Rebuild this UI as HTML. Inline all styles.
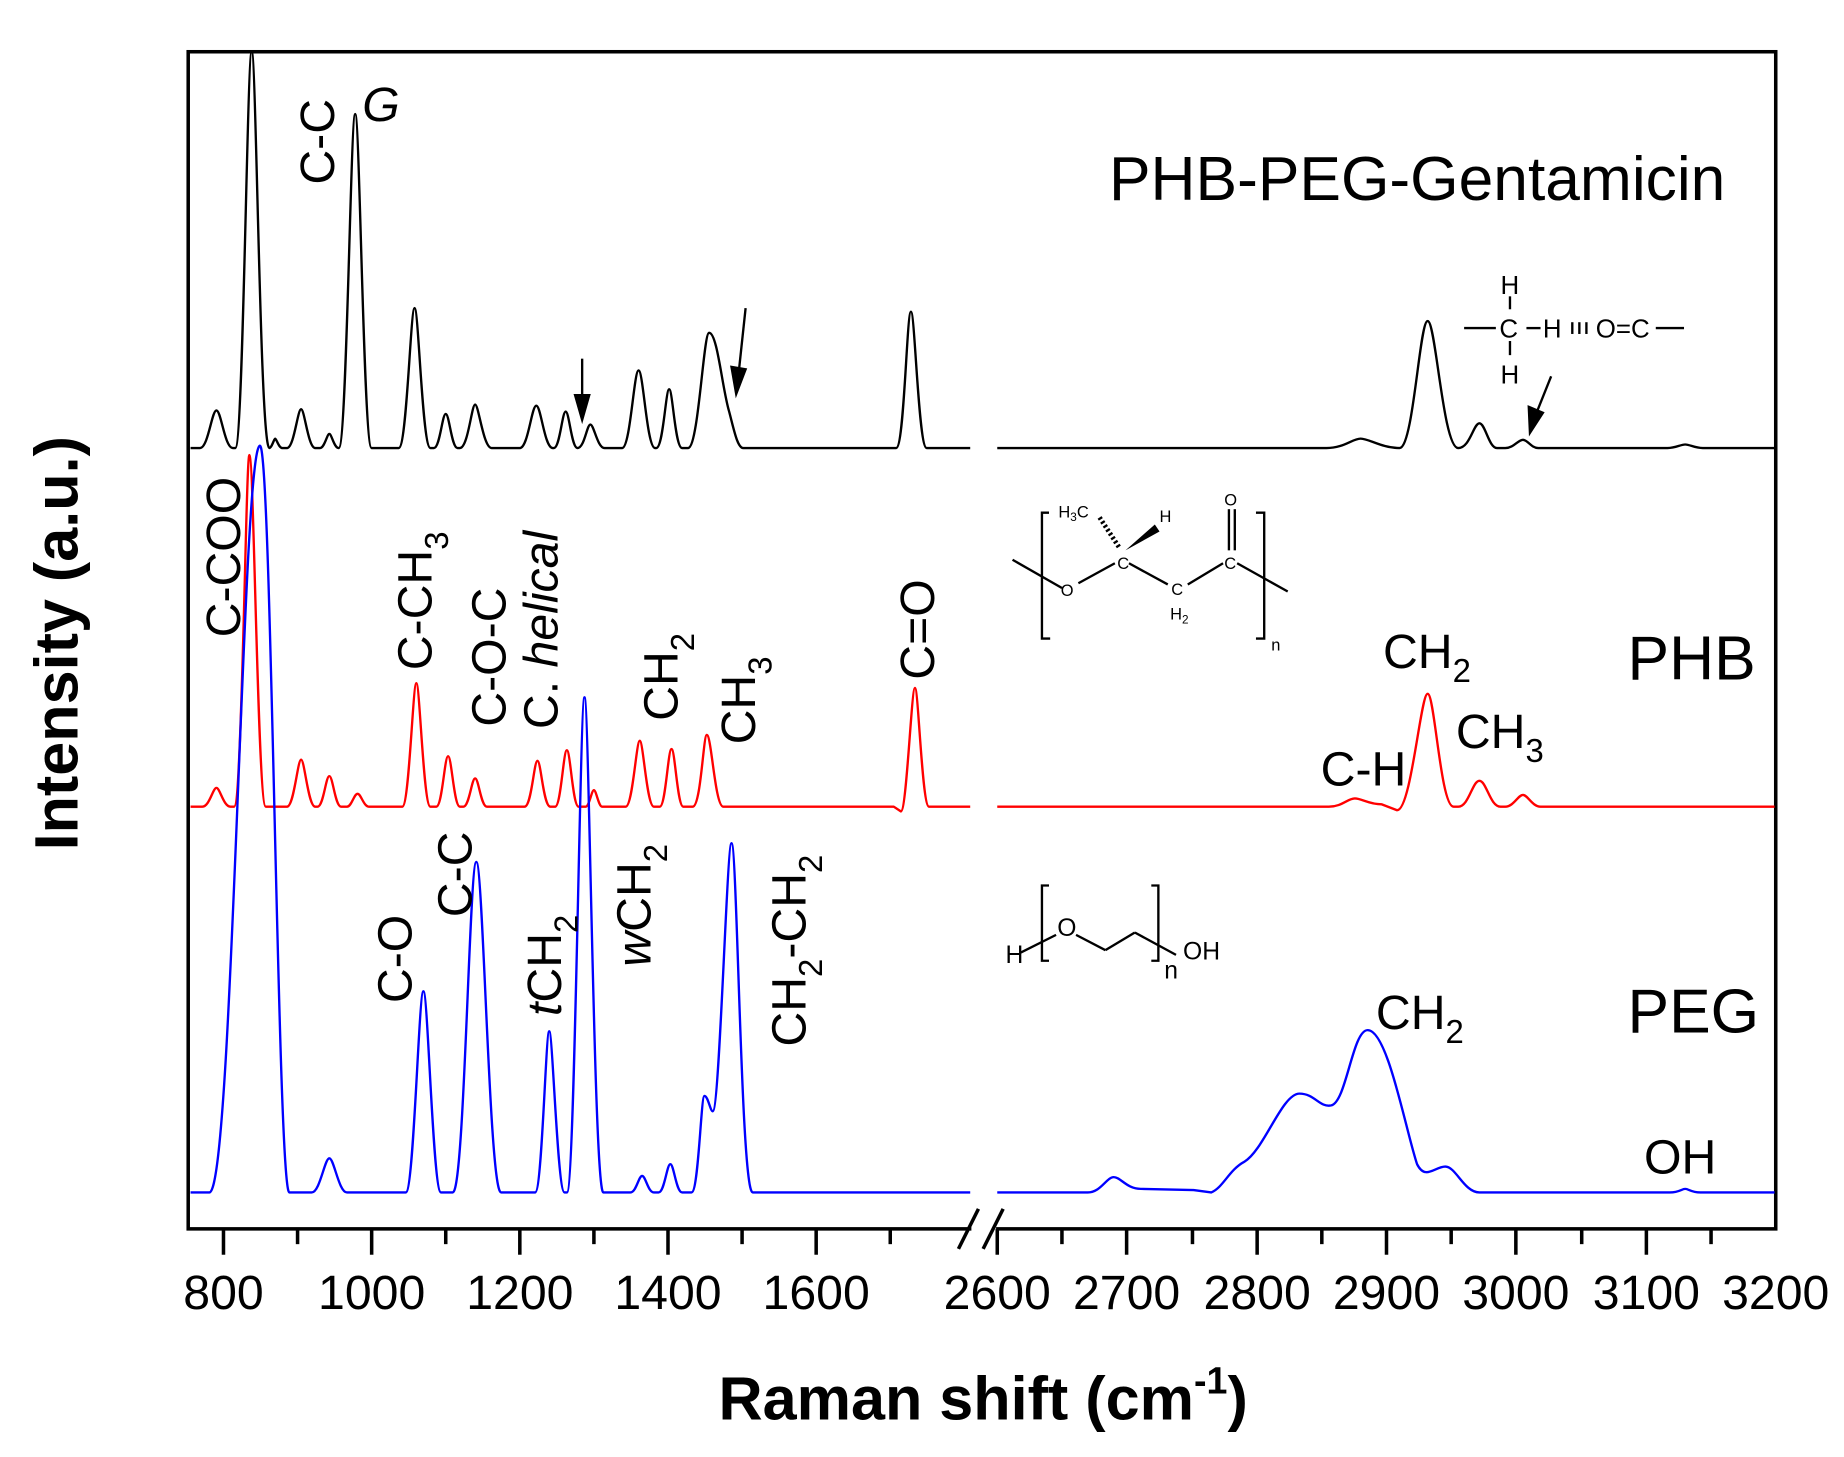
<!DOCTYPE html>
<html><head><meta charset="utf-8"><style>
html,body{margin:0;padding:0;background:#fff;}
svg{display:block;}
text{font-family:"Liberation Sans",sans-serif;fill:#000;}
</style></head><body>
<svg width="1844" height="1457" viewBox="0 0 1568 1239" xmlns="http://www.w3.org/2000/svg">
<rect x="160" y="44" width="1350" height="1001" fill="none" stroke="#000" stroke-width="3"/>
<g fill="none" stroke-width="2" stroke-linejoin="round">
<path stroke="#000" d="M162,381 L170,381 C177,381 180,349 184,349 C188,349 191,381 198,381
L200,381 C207,381 210,44 214,44 C218,44 221,381 229,381
C231,381 233,373 234,373 C235,373 237,381 240,381 L244,381
C250,381 253,348 256,348 C259,348 262,381 268,381 L272,381
C276,381 278,369 280,369 C282,369 284,381 288,381
C295,381 298,97 302,97 C306,97 309,381 316,381 L339,381
C346,381 349,262 352.5,262 C356,262 359,381 366,381 L369,381
C374,381 376,352 379,352 C382,352 384,381 389,381 L391,381
C398,381 401,344 404,344 C407,344 411,381 418,381 L442,381
C449,381 452,345 456,345 C460,345 463,381 470,381 L471,381
C476,381 478,350 481,350 C484,350 486,381 491,381
C497,381 499,361 502,361 C505,361 508,381 514,381 L529,381
C536,381 539,315 543,315 C547,315 550,381 557,381 L558,381
C564,381 566,331 569,331 C572,331 574,381 580,381 L585,381
C594,381 598,283 603,283 C610,283 614,330 620,350 C624,365 627,381 632,381 L762,381
C769,381 771,265 774.6,265 C778,265 781,381 788,381 L825,381"/>
<path stroke="#000" d="M848,381 L1128,381 C1143,381 1150,373 1157,373 C1164,373 1175,381 1190,381
C1202,381 1207,273 1214,273 C1221,273 1227,381 1240,381
C1250,381 1253,360 1258,360 C1263,360 1266,381 1273,381 L1280,381
C1287,381 1291,374 1295,374 C1299,374 1302,381 1308,381 L1418,381
C1425,381 1429,378 1433,378 C1437,378 1441,381 1448,381 L1509,381"/>
<path stroke="#f00" d="M162,686 L172,686 C178,686 181,670 184,670 C187,670 190,686 196,686 L199,686
C206,686 209,387 212,387 C216,387 219,686 226,686 L244,686
C250,686 253,646 256,646 C259,646 262,686 268,686 L270,686
C275,686 277,660 280,660 C283,660 285,686 290,686 L295,686
C299,686 301,675 304,675 C307,675 309,686 314,686 L342,686
C348,686 351,581 354,581 C357,581 360,686 366,686 L371,686
C376,686 378,643 381,643 C384,643 386,686 391,686 L394,686
C399,686 401,662 404,662 C407,662 409,686 414,686 L446,686
C452,686 454,647 457,647 C460,647 462,686 468,686 L472,686
C477,686 479,638 482,638 C485,638 487,686 492,686 L498,686
C501,686 503,672 505,672 C507,672 509,686 512,686 L532,686
C538,686 541,630 544,630 C547,630 550,686 556,686 L561,686
C566,686 568,637 571,637 C574,637 576,686 581,686 L589,686
C596,686 598,625 601,625 C605,625 608,686 615,686 L760,686 L766,690
C771,690 775,585 778,585 C781,585 784,686 790,686 L825,686"/>
<path stroke="#f00" d="M848,686 L1130,686 C1141,686 1146,679 1152,679 C1158,679 1164,684 1175,684 L1188,689
C1200,689 1208,590 1214,590 C1220,590 1225,686 1236,686 L1240,686
C1249,686 1252,664 1258,664 C1264,664 1267,686 1276,686 L1280,686
C1287,686 1291,676 1295,676 C1299,676 1303,686 1310,686 L1509,686"/>
<path stroke="#00f" d="M162,1014 L178,1014 C198,1014 206,379 221,379 C231,379 236,1014 246,1014 L265,1014
C272,1014 276,985 280,985 C284,985 288,1014 295,1014 L345,1014
C352,1014 356,843 360,843 C364,843 368,1014 375,1014 L385,1014
C395,1014 399,733 405,733 C411,733 416,1014 426,1014 L455,1014
C461,1014 464,877 467,877 C470,877 474,1014 480,1014 L482,1014
C489,1014 493,593 497,593 C501,593 505,1014 513,1014 L536,1014
C541,1014 543,1000 546,1000 C549,1000 551,1014 556,1014 L560,1014
C565,1014 567,990 570,990 C573,990 575,1014 580,1014 L588,1014
C594,1014 596,932 599,932 C602,932 604,945 606,945 C612,945 618,717 622,717 C627,717 630,1014 640,1014 L825,1014"/>
<path stroke="#00f" d="M848,1014 L925,1014 C936,1014 941,1001 947,1001 C953,1001 958,1011 970,1011 L1015,1012 L1030,1014
C1040,1010 1045,995 1058,988 C1075,978 1090,930 1105,930 C1118,930 1122,942 1132,940 C1145,937 1150,876 1163,876
C1180,876 1195,960 1205,990 C1212,1004 1220,992 1229,992 C1238,992 1245,1014 1258,1014 L1420,1014
C1428,1014 1430,1011 1433,1011 C1436,1011 1438,1014 1446,1014 L1509,1014"/>
</g>
<rect x="826" y="1030" width="21" height="30" fill="#fff"/>
<line x1="815" y1="1062" x2="832" y2="1028" stroke="#000" stroke-width="3"/>
<line x1="836" y1="1062" x2="853" y2="1028" stroke="#000" stroke-width="3"/>
<g stroke="#000" stroke-width="3">
<line x1="190" y1="1045" x2="190" y2="1067"/><line x1="253" y1="1045" x2="253" y2="1058"/>
<line x1="316" y1="1045" x2="316" y2="1067"/><line x1="379" y1="1045" x2="379" y2="1058"/>
<line x1="442" y1="1045" x2="442" y2="1067"/><line x1="505" y1="1045" x2="505" y2="1058"/>
<line x1="568" y1="1045" x2="568" y2="1067"/><line x1="631" y1="1045" x2="631" y2="1058"/>
<line x1="694" y1="1045" x2="694" y2="1067"/><line x1="757" y1="1045" x2="757" y2="1058"/>
<line x1="848" y1="1045" x2="848" y2="1067"/><line x1="903" y1="1045" x2="903" y2="1058"/>
<line x1="958" y1="1045" x2="958" y2="1067"/><line x1="1014" y1="1045" x2="1014" y2="1058"/>
<line x1="1069" y1="1045" x2="1069" y2="1067"/><line x1="1124" y1="1045" x2="1124" y2="1058"/>
<line x1="1179" y1="1045" x2="1179" y2="1067"/><line x1="1234" y1="1045" x2="1234" y2="1058"/>
<line x1="1289" y1="1045" x2="1289" y2="1067"/><line x1="1345" y1="1045" x2="1345" y2="1058"/>
<line x1="1400" y1="1045" x2="1400" y2="1067"/><line x1="1455" y1="1045" x2="1455" y2="1058"/>
</g>
<g font-size="41" text-anchor="middle">
<text x="190" y="1113">800</text><text x="316" y="1113">1000</text><text x="442" y="1113">1200</text>
<text x="568" y="1113">1400</text><text x="694" y="1113">1600</text>
<text x="848" y="1113">2600</text><text x="958" y="1113">2700</text><text x="1069" y="1113">2800</text>
<text x="1179" y="1113">2900</text><text x="1289" y="1113">3000</text><text x="1400" y="1113">3100</text><text x="1510" y="1113">3200</text>
</g>
<text x="836" y="1207" font-size="52" font-weight="bold" text-anchor="middle">Raman shift (cm<tspan font-size="32" dy="-22">-1</tspan><tspan dy="22">)</tspan></text>
<text transform="translate(66,547) rotate(-90)" font-size="52" font-weight="bold" text-anchor="middle">Intensity (a.u.)</text>

<g font-size="41">
<text transform="translate(284,157) rotate(-90)">C-C</text>
<text x="308" y="103" font-style="italic">G</text>
<text x="943" y="170" font-size="53">PHB-PEG-Gentamicin</text>
<text transform="translate(204,542) rotate(-90)">C-COO</text>
<text transform="translate(367,570) rotate(-90)">C-CH<tspan font-size="28" dy="14">3</tspan></text>
<text transform="translate(430,618) rotate(-90)">C-O-C</text>
<text transform="translate(474,620) rotate(-90)">C. <tspan font-style="italic">helical</tspan></text>
<text transform="translate(576,613) rotate(-90)">CH<tspan font-size="28" dy="14">2</tspan></text>
<text transform="translate(642,633) rotate(-90)">CH<tspan font-size="28" dy="14">3</tspan></text>
<text transform="translate(794,578) rotate(-90)">C=O</text>
<text x="1384" y="578" font-size="53">PHB</text>
<text x="1176" y="568">CH<tspan font-size="28" dy="12">2</tspan></text>
<text x="1238" y="636">CH<tspan font-size="28" dy="12">3</tspan></text>
<text x="1123" y="668">C-H</text>
<text transform="translate(350,853) rotate(-90)">C-O</text>
<text transform="translate(401,780) rotate(-90)">C-C</text>
<text transform="translate(477,864) rotate(-90)"><tspan font-style="italic">t</tspan>CH<tspan font-size="28" dy="14">2</tspan></text>
<text transform="translate(553,822) rotate(-90)"><tspan font-style="italic">w</tspan>CH<tspan font-size="28" dy="14">2</tspan></text>
<text transform="translate(685,890) rotate(-90)">CH<tspan font-size="28" dy="14">2</tspan><tspan dy="-14">-CH</tspan><tspan font-size="28" dy="14">2</tspan></text>
<text x="1384" y="878" font-size="53">PEG</text>
<text x="1170" y="875">CH<tspan font-size="28" dy="12">2</tspan></text>
<text x="1398" y="998">OH</text>
</g>
<g stroke="#000" stroke-width="2" fill="#000">
<line x1="495" y1="305" x2="495" y2="340"/><polygon points="489,336 501,336 495,357"/>
<line x1="634" y1="262" x2="628" y2="318"/><polygon points="622,312 634,314 626,335"/>
<line x1="1319" y1="320" x2="1307" y2="350"/><polygon points="1300,346 1312,351 1301,368"/>
</g>
<g font-size="22">
<text x="1276" y="250">H</text><text x="1276" y="326">H</text>
<text x="1275" y="287">C</text><text x="1312" y="287">H</text><text x="1357" y="287">O=C</text>
</g>
<g stroke="#000" stroke-width="2">
<line x1="1245" y1="279" x2="1272" y2="279"/><line x1="1298" y1="279" x2="1310" y2="279"/>
<line x1="1284" y1="252" x2="1284" y2="263"/><line x1="1284" y1="290" x2="1284" y2="302"/>
<line x1="1408" y1="279" x2="1432" y2="279"/>
<line x1="1337" y1="274" x2="1337" y2="284"/><line x1="1343" y1="274" x2="1343" y2="284"/><line x1="1349" y1="274" x2="1349" y2="284"/>
</g>
<g stroke="#000" stroke-width="2" fill="none">
<polyline points="892,436 886,436 886,543 893,543"/>
<polyline points="1068,436 1075,436 1075,543 1068,543"/>
<line x1="861" y1="476" x2="903" y2="500"/>
<line x1="917" y1="496" x2="948" y2="479"/>
<line x1="960" y1="479" x2="993" y2="497"/>
<line x1="1010" y1="497" x2="1040" y2="479"/>
<line x1="1052" y1="479" x2="1095" y2="503"/>
<line x1="1045" y1="433" x2="1045" y2="468"/><line x1="1050" y1="433" x2="1050" y2="468"/>
<line x1="935" y1="440" x2="952" y2="466" stroke-dasharray="2,2" stroke-width="4"/>
</g>
<polygon points="957,468 982,446 986,452" fill="#000"/>
<g font-size="14"><text x="902" y="507">O</text><text x="950" y="484">C</text><text x="996" y="506">C</text>
<text x="995" y="527">H<tspan font-size="10" dy="3">2</tspan></text><text x="1041" y="484">C</text><text x="1041" y="430">O</text>
<text x="900" y="440">H<tspan font-size="10" dy="3">3</tspan><tspan dy="-3">C</tspan></text><text x="986" y="444">H</text>
<text x="1081" y="553" font-family="Liberation Serif">n</text></g>
<g stroke="#000" stroke-width="2" fill="none">
<polyline points="892,753 886,753 886,817 892,817"/>
<polyline points="979,753 985,753 985,817 979,817"/>
<line x1="868" y1="810" x2="898" y2="795"/>
<line x1="915" y1="795" x2="940" y2="808"/><line x1="940" y1="808" x2="965" y2="793"/><line x1="965" y1="793" x2="1000" y2="812"/>
</g>
<g font-size="21"><text x="855" y="819">H</text><text x="899" y="796">O</text><text x="1006" y="816">OH</text><text x="990" y="832">n</text></g>
</svg>
</body></html>
